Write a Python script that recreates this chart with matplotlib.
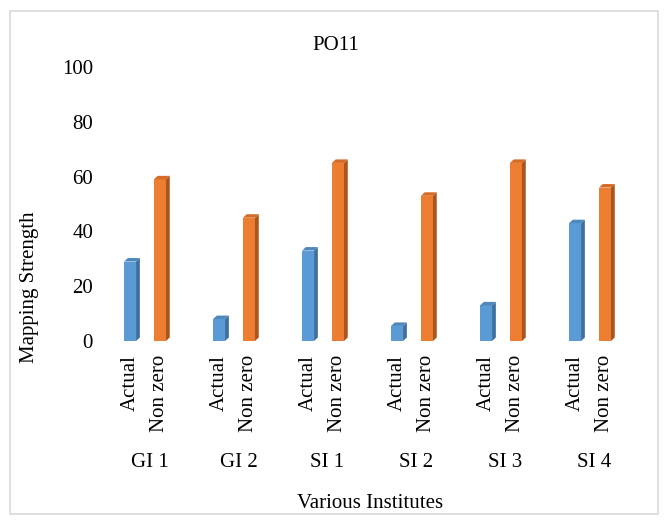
import matplotlib
matplotlib.use("Agg")
import matplotlib.pyplot as plt
from matplotlib.patches import Polygon, Rectangle
import numpy as np

plt.rcParams['font.family'] = ['Liberation Serif', 'DejaVu Serif']

title = "PO11"
institutes = ["GI 1", "GI 2", "SI 1", "SI 2", "SI 3", "SI 4"]
series_names = ["Actual", "Non zero"]
actual = [29, 8, 33, 5.5, 13, 43]
non_zero = [59, 45, 65, 53, 65, 56]
y_ticks = [0, 20, 40, 60, 80, 100]
x_label = "Various Institutes"
y_label = "Mapping Strength"

front_cols = ["#5B9BD5", "#ED7D31"]
side_cols = ["#3E6F9E", "#A9561E"]
top_cols = ["#4F88BD", "#D46B26"]

W, H = 665, 521
fig = plt.figure(figsize=(W / 100, H / 100), dpi=100)

# outer border
fig.patches.append(Rectangle((10 / W, 1 - 514 / H), 648 / W, 503 / H,
                             transform=fig.transFigure, fill=False,
                             edgecolor="#D9D9D9", linewidth=1.2))

ax_l, ax_r = 100, 640
ax_t, ax_b = 67, 341
ax = fig.add_axes([ax_l / W, 1 - ax_b / H, (ax_r - ax_l) / W, (ax_b - ax_t) / H])

px_per_unit_x = 89.0
center0 = 145.0
ax.set_xlim((ax_l - center0) / px_per_unit_x, (ax_r - center0) / px_per_unit_x)
ax.set_ylim(0, 100)

off = 0.168
bw = 0.135
dx = 3.8 / px_per_unit_x
dy = 3.5 / ((ax_b - ax_t) / 100.0)

g = np.arange(len(institutes))
tick_pos = []
tick_lab = []
for s, vals in enumerate([actual, non_zero]):
    xs = g + (-off if s == 0 else off)
    ax.bar(xs, vals, width=bw, color=front_cols[s], edgecolor="none", zorder=3)
    for x, v in zip(xs, vals):
        x0, x1 = x - bw / 2, x + bw / 2
        side = Polygon([(x1, 0), (x1 + dx, dy), (x1 + dx, v + dy), (x1, v)],
                       closed=True, facecolor=side_cols[s], edgecolor="none", zorder=3)
        top = Polygon([(x0, v), (x0 + dx, v + dy), (x1 + dx, v + dy), (x1, v)],
                      closed=True, facecolor=top_cols[s], edgecolor="none", zorder=3)
        ax.add_patch(side)
        ax.add_patch(top)
    tick_pos.extend(xs)
    tick_lab.extend([series_names[s]] * len(xs))

order = np.argsort(tick_pos)
ax.set_xticks(np.array(tick_pos)[order])
ax.set_xticklabels(np.array(tick_lab)[order], rotation=90, fontsize=15)
ax.tick_params(axis='x', length=0, pad=10)

ax.set_yticks(y_ticks)
ax.set_yticklabels([str(t) for t in y_ticks], fontsize=15)
ax.tick_params(axis='y', length=0, pad=5)

for sp in ax.spines.values():
    sp.set_visible(False)

# group labels
for i, name in enumerate(institutes):
    ax.text(i + 0.05, -44.5, name, ha='center', va='center', fontsize=15,
            transform=ax.transData, clip_on=False)

fig.text(336 / W, 1 - 45 / H, title, ha='center', va='center', fontsize=15)
fig.text(370 / W, 1 - 503 / H, x_label, ha='center', va='center', fontsize=15)
fig.text(30 / W, 1 - 287 / H, y_label, ha='center', va='center', fontsize=15, rotation=90)

fig.savefig("out.png", dpi=100)
